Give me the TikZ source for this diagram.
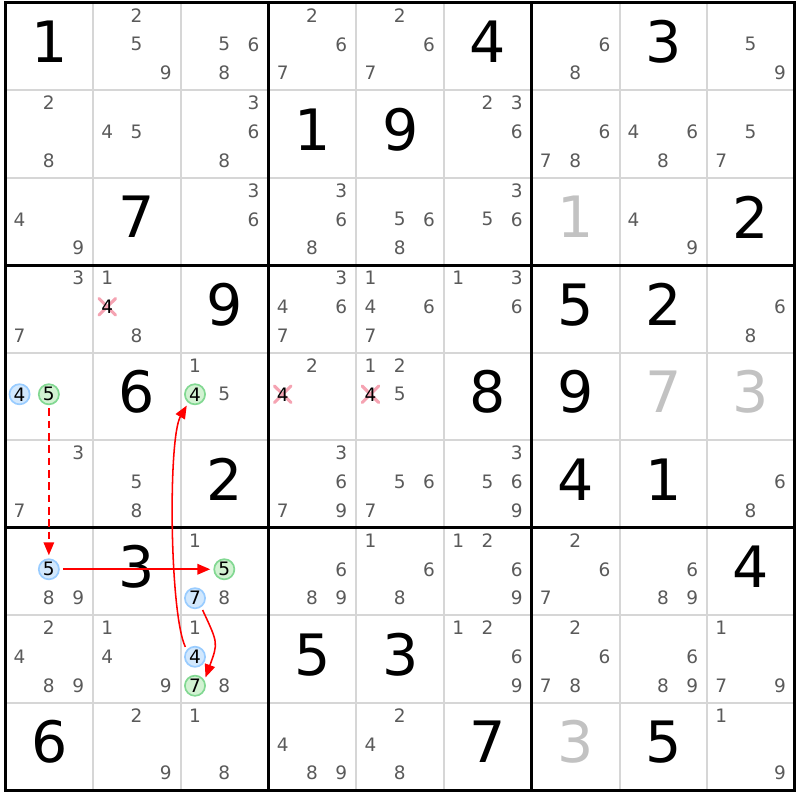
\documentclass[tikz,border=0pt]{standalone}
\usepackage{fontspec}
\setmainfont{DejaVu Sans}
\usetikzlibrary{arrows.meta}
\definecolor{candgray}{HTML}{5A5A5A}
\definecolor{solvedgray}{HTML}{C2C2C2}
\definecolor{gridgray}{HTML}{D6D6D6}
\definecolor{offfill}{HTML}{D2E8FD}
\definecolor{offline}{HTML}{99CCFF}
\definecolor{onfill}{HTML}{D2F2D2}
\definecolor{online}{HTML}{82D892}
\definecolor{crosspink}{HTML}{F5A3B2}
\definecolor{linkred}{HTML}{FF0000}

\begin{document}
\begin{tikzpicture}[x=2cm, y=1.995cm]
    \tikzset{
      given/.style={inner sep=0, yshift=2.7pt, font=\fontsize{37}{40}\selectfont},
      solved/.style={given, text=solvedgray},
      cand/.style={inner sep=0, font=\fontsize{12}{13}\selectfont, text=candgray},
      offcand/.style={cand, text=black, circle, minimum size=0.46cm,
        line width=1.1pt, draw=offline, fill=offfill},
      oncand/.style={offcand, draw=online, fill=onfill},
      elimcand/.style={cand, text=black},
      xmark/.style={crosspink, line width=2pt, line cap=round},
      link/.style={draw=linkred, line width=1pt,
        -{Triangle[length=8.4pt, width=6.8pt]}, shorten <=2pt, shorten >=2pt},
    }
    \useasboundingbox (-0.063,0.029) rectangle (9.057,-9.114);

    \draw[gridgray, line width=1.3pt]
    foreach \i in {1,2,4,5,7,8} { (0,-\i) -- +(9,0) (\i,0) -- +(0,-9) };
    \draw[line width=1.95pt]
    foreach \i in {3,6} { (0,-\i) -- +(9,0) (\i,0) -- +(0,-9) };
    \draw[line width=1.95pt] (0,0) rectangle (9,-9);

    \path
    foreach \i in {0,...,8} { foreach \j in {0,...,8} {
        (\j+1/2,-\i-1/2) coordinate(c-\i-\j)
        foreach \d in {1,...,9} {
          ([shift={({mod(\d-1,3)*0.334-0.34},{0.354-floor((\d-1)/3)*0.331})}]c-\i-\j)
          coordinate(p-\i-\j-\d)
        }
    } };

    % givens and solved cells
    \path
    foreach \i/\j/\val in {
      0/0/1,0/5/4,0/7/3,
      1/3/1,1/4/9,
      2/1/7,2/8/2,
      3/2/9,3/6/5,3/7/2,
      4/1/6,4/5/8,4/6/9,
      5/2/2,5/6/4,5/7/1,
      6/1/3,6/8/4,
      7/3/5,7/4/3,
      8/0/6,8/5/7,8/7/5
    } { (c-\i-\j) node[given] (g-\i-\j) {\val} }
    foreach \i/\j/\val in {2/6/1,4/7/7,4/8/3,8/6/3} {
      (c-\i-\j) node[solved] (g-\i-\j) {\val}
    };

    % candidates
    \path
    foreach \i/\j/\ds in {
      0/1/{2,5,9},0/2/{5,6,8},0/3/{2,6,7},0/4/{2,6,7},0/6/{6,8},0/8/{5,9},
      1/0/{2,8},1/1/{4,5},1/2/{3,6,8},1/5/{2,3,6},1/6/{6,7,8},1/7/{4,6,8},1/8/{5,7},
      2/0/{4,9},2/2/{3,6},2/3/{3,6,8},2/4/{5,6,8},2/5/{3,5,6},2/7/{4,9},
      3/0/{3,7},3/1/{1,8},3/3/{3,4,6,7},3/4/{1,4,6,7},3/5/{1,3,6},3/8/{6,8},
      4/2/{1,5},4/3/{2},4/4/{1,2,5},
      5/0/{3,7},5/1/{5,8},5/3/{3,6,7,9},5/4/{5,6,7},5/5/{3,5,6,9},5/8/{6,8},
      6/0/{8,9},6/2/{1,8},6/3/{6,8,9},6/4/{1,6,8},6/5/{1,2,6,9},6/6/{2,6,7},6/7/{6,8,9},
      7/0/{2,4,8,9},7/1/{1,4,9},7/2/{1,8},7/5/{1,2,6,9},7/6/{2,6,7,8},7/7/{6,8,9},7/8/{1,7,9},
      8/1/{2,9},8/2/{1,8},8/3/{4,8,9},8/4/{2,4,8},8/8/{1,9}}
    { foreach \d in \ds { (p-\i-\j-\d) node[cand] (n-\i-\j-\d) {\d} } };

    % eliminated candidates
    \foreach \i/\j in {3/1,4/3,4/4} {
      \draw[xmark] (p-\i-\j-4) +(-0.095,-0.095) -- +(0.095,0.095)
                               +(-0.095,0.095) -- +(0.095,-0.095);
      \node[elimcand] (n-\i-\j-4) at (p-\i-\j-4) {4};
    }

    % chain
    \path
    foreach \i/\j/\d in {4/0/4,6/0/5,6/2/7,7/2/4} {
      (p-\i-\j-\d) node[offcand] (n-\i-\j-\d) {\d}
    }
    foreach \i/\j/\d in {4/0/5,4/2/4,6/2/5,7/2/7} {
      (p-\i-\j-\d) node[oncand] (n-\i-\j-\d) {\d}
    };

    \draw[link, dash pattern=on 5pt off 3pt] (n-4-0-5) -- (n-6-0-5);
    \draw[link, line width=1.3pt] (n-6-0-5) -- (n-6-2-5);
    \draw[link] (n-7-2-4.140) to[out=115, in=-120, looseness=0.42] (n-4-2-4.-128);
    \draw[link] (n-6-2-7.-55) to[out=-65, in=70, looseness=1.4] (n-7-2-7.30);
  \end{tikzpicture}
\end{document}
